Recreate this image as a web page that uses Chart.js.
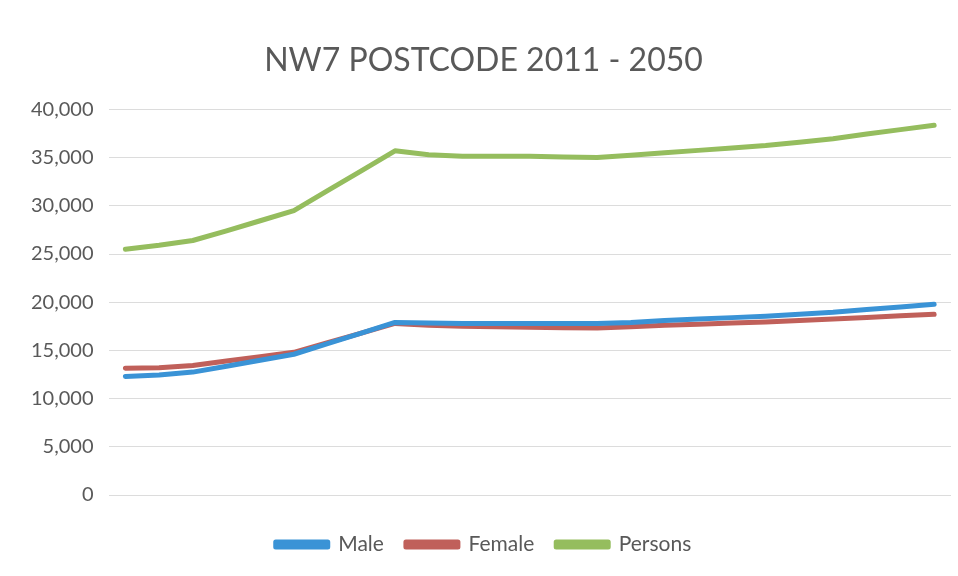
<!DOCTYPE html>
<html>
<head>
<meta charset="utf-8">
<script src="https://cdn.jsdelivr.net/npm/chart.js@4"></script>
<style>
  body { margin: 0; background: #fff; }
  #wrap { width: 958px; height: 576px; }
</style>
</head>
<body>
<div id="wrap"><canvas id="myChart" width="958" height="576"></canvas></div>
<script>
// points along 2011 - 2050 (axis labels are hidden in the original)
const categories = ["1", "2", "3", "4", "5", "6", "7", "8", "9", "10", "11", "12", "13",
  "14", "15", "16", "17", "18", "19", "20", "21", "22", "23", "24", "25"];

const male = [12300, 12450, 12750, 13350, 13980, 14600, 15700, 16800, 17900, 17850,
  17800, 17800, 17800, 17780, 17780, 17900, 18100, 18250, 18400, 18550, 18750, 18950,
  19250, 19500, 19780];

const female = [13150, 13200, 13440, 13900, 14350, 14800, 15800, 16800, 17800, 17600,
  17500, 17450, 17400, 17350, 17330, 17450, 17600, 17700, 17850, 17950, 18100, 18250,
  18420, 18600, 18750];

const persons = [25500, 25900, 26400, 27400, 28450, 29500, 31570, 33630, 35700, 35300,
  35150, 35150, 35150, 35050, 35000, 35250, 35500, 35750, 36000, 36250, 36600, 36950,
  37450, 37900, 38350];

const yTicks = [0, 5000, 10000, 15000, 20000, 25000, 30000, 35000, 40000];

const fontFamily = "Lato, 'Open Sans', sans-serif";
const grey = "#595959";

var ctx = document.getElementById("myChart").getContext("2d");
var myChart = new Chart(ctx, {
  type: "line",
  data: {
    labels: categories,
    datasets: [
      { label: "Male", data: male, borderColor: "#3a93d6", backgroundColor: "#3a93d6" },
      { label: "Female", data: female, borderColor: "#c0605a", backgroundColor: "#c0605a" },
      { label: "Persons", data: persons, borderColor: "#95bd5e", backgroundColor: "#95bd5e" },
    ],
  },
  options: {
    responsive: false,
    animation: false,
    elements: {
      line: { borderWidth: 5, tension: 0, borderCapStyle: "round", borderJoinStyle: "round" },
      point: { radius: 0 },
    },
    layout: { padding: { left: 16, right: 7, top: 41, bottom: 11 } },
    plugins: {
      title: {
        display: true,
        text: "NW7 POSTCODE 2011 - 2050",
        color: grey,
        font: { family: fontFamily, size: 32, weight: "normal" },
        padding: { top: 0, bottom: 30 },
      },
      legend: {
        position: "bottom",
        labels: {
          color: grey,
          font: { family: fontFamily, size: 21 },
          boxWidth: 52,
          boxHeight: 5,
          padding: 22,
        },
      },
      tooltip: { enabled: false },
    },
    scales: {
      x: {
        offset: true,
        ticks: { display: false },
        grid: { display: false },
        border: { display: false },
        afterFit: (axis) => { axis.height = (axis.height || 0) + 9; },
      },
      y: {
        min: 0,
        max: 40000,
        afterBuildTicks: (axis) => { axis.ticks = yTicks.map((v) => ({ value: v })); },
        ticks: {
          color: grey,
          font: { family: fontFamily, size: 20 },
          padding: 15,
          callback: (v) => v.toLocaleString("en-GB"),
        },
        grid: { color: "#dcdcdc", drawTicks: false },
        border: { display: false },
      },
    },
  },
});
</script>
</body>
</html>
